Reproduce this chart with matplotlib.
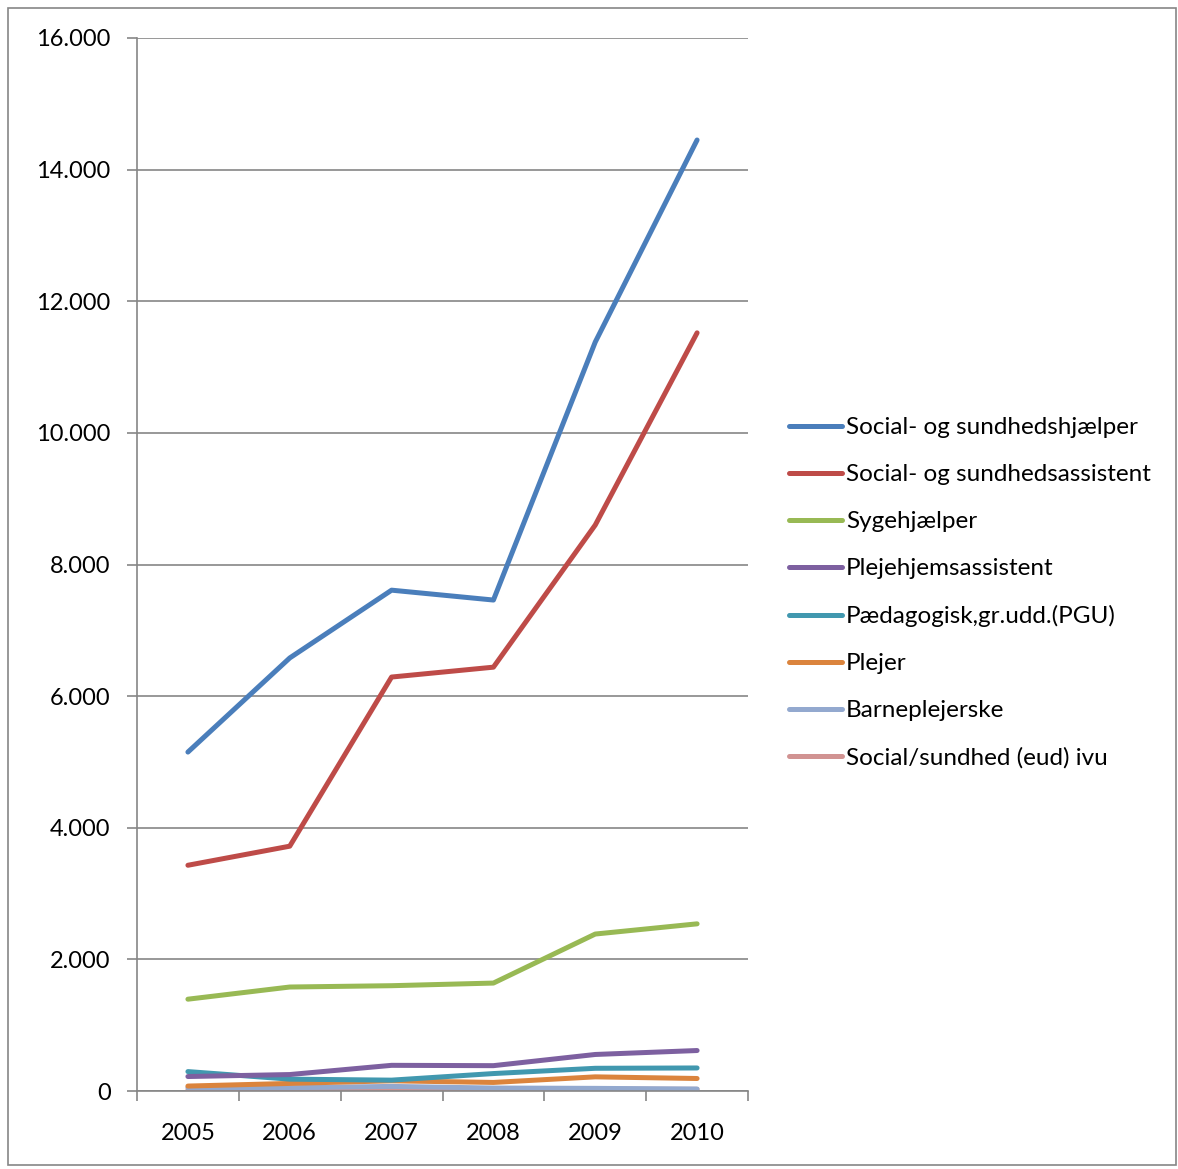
import matplotlib
matplotlib.use('Agg')
import matplotlib.pyplot as plt
from matplotlib.patches import Rectangle
from matplotlib.ticker import FuncFormatter, FixedLocator
import numpy as np

plt.rcParams['font.family'] = ['Lato', 'DejaVu Sans']

years = ['2005', '2006', '2007', '2008', '2009', '2010']
labels = ['Social- og sundhedshjælper', 'Social- og sundhedsassistent', 'Sygehjælper',
          'Plejehjemsassistent', 'Pædagogisk,gr.udd.(PGU)', 'Plejer',
          'Barneplejerske', 'Social/sundhed (eud) ivu']

sosu_hjaelper = [5150, 6580, 7610, 7460, 11380, 14450]
sosu_assistent = [3430, 3720, 6290, 6440, 8600, 11520]
sygehjaelper = [1395, 1580, 1600, 1640, 2385, 2540]
plejehjem = [220, 250, 390, 385, 555, 615]
pgu = [295, 180, 165, 265, 345, 350]
plejer = [75, 115, 155, 130, 215, 190]
barnepl = [50, 50, 70, 45, 40, 30]
eud_ivu = [15, 15, 40, 25, 30, 25]

series = [sosu_hjaelper, sosu_assistent, sygehjaelper, plejehjem, pgu, plejer, barnepl, eud_ivu]
colors = ['#4A7EBB', '#BE4B48', '#98B954', '#7D60A0', '#4198AF', '#DB843D', '#93A9CF', '#D19392']

fig = plt.figure(figsize=(11.78, 11.69), dpi=100)
ax = fig.add_axes([137/1178, 1 - 1091/1169, (748 - 137)/1178, (1091 - 38)/1169])

x = np.arange(len(years))
# small series first so the big ones sit on top
for vals, lab, c in reversed(list(zip(series, labels, colors))):
    ax.plot(x, vals, color=c, lw=3.6, label=lab, solid_capstyle='round')

ax.set_xlim(-0.5, 5.5)
ax.set_ylim(0, 16000)
ax.set_yticks(np.arange(0, 16001, 2000))
ax.yaxis.set_major_formatter(FuncFormatter(lambda v, p: '0' if v == 0 else f'{int(v):,}'.replace(',', '.')))
ax.grid(axis='y', color='#868686', lw=1.2)
ax.set_axisbelow(True)

ax.xaxis.set_major_locator(FixedLocator(np.arange(-0.5, 6, 1)))
ax.xaxis.set_minor_locator(FixedLocator(x))
ax.set_xticklabels([])
ax.set_xticklabels(years, minor=True)
ax.tick_params(axis='x', which='major', length=7, width=1.2, color='#868686')
ax.tick_params(axis='x', which='minor', length=0, pad=23, labelsize=17)
ax.tick_params(axis='y', length=7, width=1.2, color='#868686', pad=12, labelsize=17)

for s in ['top', 'right']:
    ax.spines[s].set_visible(False)
for s in ['left', 'bottom']:
    ax.spines[s].set_color('#868686')
    ax.spines[s].set_linewidth(1.2)

h, l = ax.get_legend_handles_labels()
leg = fig.legend(h[::-1], l[::-1], loc='center left', bbox_to_anchor=(789/1178, 1 - 593/1169),
                 frameon=False, fontsize=17.5, handlelength=2.2, handletextpad=0.15,
                 labelspacing=1.07, borderpad=0, borderaxespad=0)

fig.patches.append(Rectangle((8/1178, 4/1169), 1168/1178, 1157/1169, transform=fig.transFigure,
                             fill=False, edgecolor='#868686', lw=1.2))

fig.savefig('out.png', dpi=100)
